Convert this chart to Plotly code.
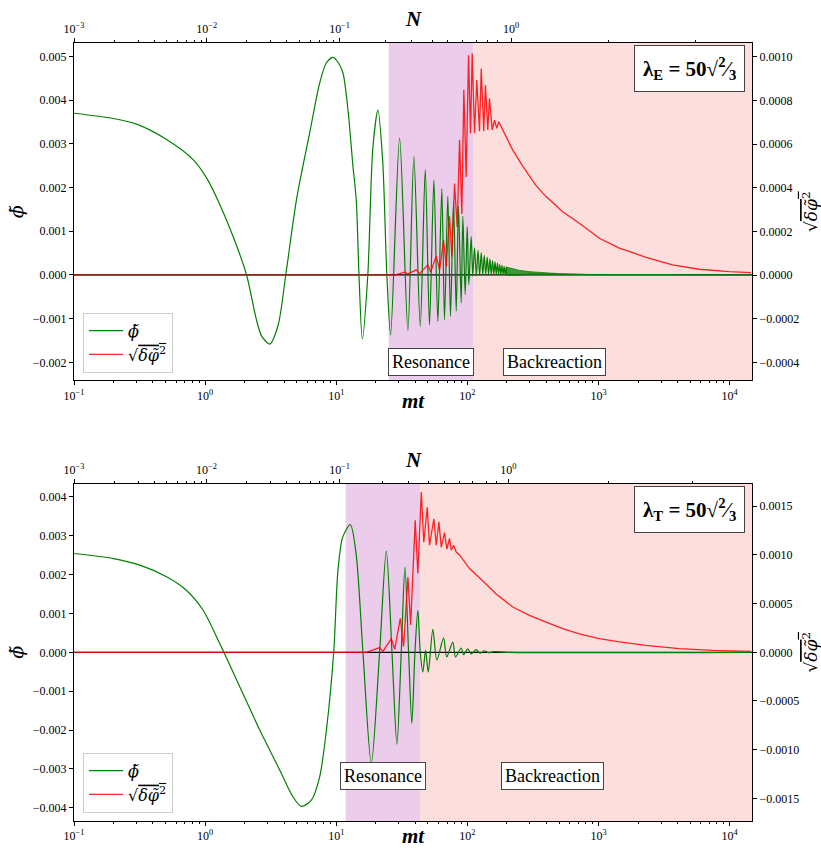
import math
import plotly.graph_objects as go

# ------------------------------------------------------------------ data
# top panel (lambda_E): phi~ (left axis), values in units of 1e-3
mt_phiE = [0.1, 0.2, 0.3, 0.508, 0.81, 1.025, 1.29, 1.634, 2.07, 2.46, 2.70, 3.11, 3.6, 4.12,
           4.97, 6.27, 7.47, 8.4, 9.44, 10.4, 11.25, 12.28, 13.4, 14.2, 14.9, 15.8, 17.4, 19.0,
           20.78, 22.6, 24.3, 25.96, 30.4, 35.17, 39.06, 43.7, 47.7, 51.4, 55.5, 59.5, 63.8, 66.9,
           70.9, 74.3, 78.4, 82.2, 85.5, 89.7, 92.3, 96.2, 99.7, 102.5, 106.9, 109.9, 113.3, 117.0,
           120.5, 124.0, 127.5, 131.0, 134.5, 138.0, 141.5, 145.0, 148.5, 152.0, 155.5, 159.0,
           162.5, 166.0, 169.5, 173.0, 176.5, 180.0, 183.5, 187.0, 190.5, 194.0, 197.5, 201.0,
           300.0, 600.0, 1000.0, 3000.0, 14500.0]
phiE_e3 = [3.70, 3.58, 3.45, 3.10, 2.64, 2.22, 1.62, 0.88, 0.0, -1.02, -1.40, -1.58, -1.15, 0.0,
           1.72, 3.25, 4.39, 4.85, 4.98, 4.85, 4.62, 3.78, 2.49, 1.72, 0.0, -1.465, 0.0, 2.9,
           3.77, 2.6, 0.0, -1.37, 3.135, -1.27, 2.71, -1.18, 2.41, -1.14, 2.165, -1.06, 1.97, -1.02,
           1.80, -0.95, 1.68, -0.83, 1.57, -0.64, 1.34, -0.45, 1.11, -0.22, 0.88, -0.03, 0.62, -0.02,
           0.57, -0.01, 0.51, 0.0, 0.45, 0.0, 0.41, 0.01, 0.37, 0.01, 0.33, 0.01,
           0.30, 0.01, 0.27, 0.01, 0.24, 0.01, 0.22, 0.01, 0.20, 0.01, 0.18, 0.01,
           0.02, 0.012, 0.01, 0.006, 0.004]
# dense oscillation band of phi~ (top panel) : envelope, units 1e-3
mt_bandE = [197.5, 230, 250, 300, 350, 400, 500, 600, 800, 1000]
bandE_hi_e3 = [0.18, 0.13, 0.105, 0.075, 0.058, 0.045, 0.030, 0.022, 0.015, 0.012]
bandE_lo_e3 = [0.01, 0.01, 0.01, 0.01, 0.01, 0.01, 0.01, 0.008, 0.008, 0.008]

# top panel: sqrt(<dphi^2>) (right axis), units 1e-3
mt_dE = [0.1, 27.9, 33.2, 35.0, 40.7, 43.2, 49.9, 52.4, 57.9, 61.3, 65.8, 69.0, 73.1, 76.1,
         79.8, 83.6, 87.1, 90.7, 93.9, 97.9, 102.0, 105.6, 108.8, 113.3, 117.9, 123.7, 127.5,
         133.2, 137.3, 143.0, 147.3, 154.5, 160.8, 167.5, 173.4, 186.1, 197.5, 221.8, 264.2,
         297.2, 334.0, 398.3, 532.8, 714.0, 1014.0, 1440.0, 2300.0, 3667.0, 5858.0, 9913.0, 14510.0]
dE_e3 = [0.0, 0.0, 0.014, 0.005, 0.024, 0.007, 0.047, 0.014, 0.088, 0.024, 0.16, 0.04, 0.27, 0.085,
         0.42, 0.22, 0.62, 0.28, 0.85, 0.45, 1.008, 0.65, 1.016, 0.65, 0.894, 0.66, 0.947,
         0.66, 0.871, 0.665, 0.81, 0.665, 0.71, 0.673, 0.703, 0.665, 0.634, 0.573, 0.50,
         0.455, 0.41, 0.36, 0.291, 0.238, 0.169, 0.124, 0.082, 0.047, 0.027, 0.016, 0.012]

# bottom panel (lambda_T): phi~, units 1e-3
mt_phiT = [0.1, 0.2, 0.318, 0.508, 0.722, 0.966, 1.256, 1.39, 1.84, 2.61, 3.71, 4.68, 5.42, 6.46,
           7.47, 8.41, 9.56, 10.3, 11.2, 12.81, 14.2, 15.97, 18.5, 21.4, 24.07, 26.6, 29.0, 31.3,
           33.4, 35.6, 37.7, 39.8, 41.9, 43.7, 45.7, 48.0, 50.3, 54.5, 58.5, 65.8, 69.5, 77.4,
           81.2, 89.7, 93.4, 100.7, 106.9, 116.7, 125.0, 135.0, 145.0, 160.0, 200.0, 14500.0]
phiT_e3 = [2.54, 2.41, 2.24, 1.94, 1.59, 1.08, 0.31, 0.0, -0.89, -2.0, -3.03, -3.72, -3.96, -3.80,
           -3.2, -2.0, 0.0, 2.1, 2.96, 3.28, 2.5, 0.0, -2.86, 0.0, 2.60, 0.0, -2.37, 0.0,
           2.19, 0.0, -1.83, 0.0, 1.08, 0.0, -0.51, 0.05, -0.51, 0.59, -0.2, 0.37, -0.12, 0.26,
           -0.12, 0.11, -0.06, 0.09, -0.04, 0.07, -0.02, 0.04, -0.01, 0.02, 0.0, 0.0]

# bottom panel: sqrt(<dphi^2>), units 1e-3
mt_dT = [0.1, 16.95, 21.4, 22.7, 26.3, 27.9, 30.8, 32.6, 35.2, 36.9, 40.0, 41.9, 44.5, 46.5,
         49.4, 51.4, 55.5, 57.9, 60.6, 63.2, 66.9, 69.7, 73.1, 75.3, 78.4, 82.2, 87.1, 92.3,
         97.9, 103.7, 123.7, 165.7, 221.8, 297.2, 398.3, 532.8, 714.0, 1014.0, 1400.0, 2300.0,
         4125.0, 7396.0, 14510.0]
dT_e3 = [0.0, 0.0, 0.048, 0.01, 0.14, 0.03, 0.35, 0.06, 0.77, 0.28, 1.355, 0.81, 1.646, 1.13,
         1.49, 1.10, 1.37, 1.10, 1.34, 1.08, 1.23, 1.06, 1.17, 1.05, 1.10, 1.03, 1.0, 0.95,
         0.91, 0.86, 0.765, 0.60, 0.465, 0.38, 0.311, 0.243, 0.19, 0.14, 0.11, 0.072,
         0.038, 0.02, 0.01]

# phase boundaries (mt)
resE = [25.1, 110.7]
resT = [11.8, 43.6]
mt_max = 14800

# top axis N: tick labels and mt positions where N takes those values
N_major_text = ["10<sup>−3</sup>", "10<sup>−2</sup>", "10<sup>−1</sup>", "10<sup>0</sup>"]
N_major_mtE = [0.1, 1.03, 10.6, 215.6]
N_minor_mtE = [0.205, 0.313, 0.409, 0.508, 0.612, 0.717, 0.825, 0.932,
               2.08, 3.14, 4.19, 5.26, 6.33, 7.4, 8.45, 9.56,
               23.7, 37.7, 53.9, 70.9, 92.3, 116.7, 143.0, 170.4, 1181.0, 5458.0]
N_major_mtT = [0.1, 1.025, 10.6, 205.6]
N_minor_mtT = [0.205, 0.313, 0.409, 0.508, 0.612, 0.717, 0.825, 0.932,
               2.08, 3.14, 4.19, 5.26, 6.33, 7.4, 8.45, 9.56,
               22.4, 35.6, 50.5, 67.3, 87.1, 109.9, 139.0, 166.6, 1181.0, 5208.0]

mt_major = [0.1, 1, 10, 100, 1000, 10000]
mt_major_text = ["10<sup>−1</sup>", "10<sup>0</sup>", "10<sup>1</sup>", "10<sup>2</sup>",
                 "10<sup>3</sup>", "10<sup>4</sup>"]

# ------------------------------------------------------------------ styling
FONT = "Liberation Serif"
MATHFONT = "DejaVu Serif"
GREEN = "#008000"
RED = "rgba(255,0,0,0.85)"
PURPLE = "#EBCDEB"
PINK = "#FCDEDC"

def e3(v):
    return [x * 1e-3 for x in v]

W, H = 821, 850
ML, MR, MT, MB = 74, 69, 43, 29
PH = H - MT - MB
PANEL = 337.4 / PH
dom_top = [1 - PANEL, 1]
dom_bot = [0, PANEL]

def py2paper(py):
    return (H - MB - py) / PH

mt_minor = [k * 10 ** d for d in range(-1, 5) for k in range(2, 10)]

fig = go.Figure()

phi_name = "<i>ϕ̃</i>"
dphi_name = "√<span style='text-decoration:overline'><i>δφ̃</i><sup>2</sup></span>"

# --- top panel traces
fig.add_trace(go.Scatter(
    x=mt_bandE + mt_bandE[::-1], y=e3(bandE_hi_e3) + e3(bandE_lo_e3)[::-1],
    fill="toself", fillcolor="rgba(0,128,0,0.75)", line=dict(color=GREEN, width=0.8),
    mode="lines", showlegend=False, hoverinfo="skip", xaxis="x", yaxis="y"))
fig.add_trace(go.Scatter(x=mt_phiE, y=e3(phiE_e3), mode="lines", name=phi_name,
                         line=dict(color=GREEN, width=1.2, shape="spline", smoothing=0.8),
                         xaxis="x", yaxis="y", legend="legend"))
fig.add_trace(go.Scatter(x=mt_dE, y=e3(dE_e3), mode="lines", name=dphi_name,
                         line=dict(color=RED, width=1.3),
                         xaxis="x", yaxis="y2", legend="legend"))
fig.add_trace(go.Scatter(x=[mt_phiE[0]], y=[None], xaxis="x3", yaxis="y",
                         showlegend=False, hoverinfo="skip"))

# --- bottom panel traces
fig.add_trace(go.Scatter(x=mt_phiT, y=e3(phiT_e3), mode="lines", name=phi_name,
                         line=dict(color=GREEN, width=1.2, shape="spline", smoothing=0.8),
                         xaxis="x2", yaxis="y3", legend="legend2"))
fig.add_trace(go.Scatter(x=mt_dT, y=e3(dT_e3), mode="lines", name=dphi_name,
                         line=dict(color=RED, width=1.3),
                         xaxis="x2", yaxis="y4", legend="legend2"))
fig.add_trace(go.Scatter(x=[mt_phiT[0]], y=[None], xaxis="x4", yaxis="y3",
                         showlegend=False, hoverinfo="skip"))

xr = [-1, math.log10(mt_max)]
tickfont = dict(family=FONT, size=12, color="black")
common = dict(showline=True, linecolor="black", linewidth=1, ticks="outside", ticklen=4,
              tickwidth=1, tickcolor="black", showgrid=False, zeroline=False, tickfont=tickfont,
              automargin=False)

def xbottom(anchor):
    return dict(common, type="log", range=xr, anchor=anchor, domain=[0, 1],
                tickmode="array", tickvals=mt_major, ticktext=mt_major_text,
                minor=dict(tickmode="array", tickvals=mt_minor, ticks="outside", ticklen=2,
                           tickcolor="black", tickwidth=1))

def xtop(over, anchor, majors, minors):
    return dict(common, type="log", range=xr, overlaying=over, anchor=anchor, side="top",
                tickmode="array", tickvals=majors, ticktext=N_major_text,
                minor=dict(tickmode="array", tickvals=minors, ticks="outside", ticklen=2,
                           tickcolor="black", tickwidth=1))

fig.update_layout(
    template="none",
    width=W, height=H, margin=dict(l=ML, r=MR, t=MT, b=MB),
    paper_bgcolor="white", plot_bgcolor="white",
    font=dict(family=FONT, size=12, color="black"),
    xaxis=xbottom("y"),
    xaxis2=xbottom("y3"),
    xaxis3=xtop("x", "y", N_major_mtE, N_minor_mtE),
    xaxis4=xtop("x2", "y3", N_major_mtT, N_minor_mtT),
    yaxis=dict(common, domain=dom_top, anchor="x", range=[-0.002412, 0.005307],
               tickmode="array", tickvals=[-0.002, -0.001, 0, 0.001, 0.002, 0.003, 0.004, 0.005],
               tickformat=".3f",
               title=dict(text=phi_name, font=dict(family=MATHFONT, size=19), standoff=4)),
    yaxis2=dict(common, overlaying="y", anchor="x", side="right", range=[-0.0004824, 0.001064],
                tickmode="array", tickvals=[-0.0004, -0.0002, 0, 0.0002, 0.0004, 0.0006, 0.0008, 0.001],
                tickformat=".4f",
                title=dict(text=dphi_name, font=dict(family=MATHFONT, size=17), standoff=8)),
    yaxis3=dict(common, domain=dom_bot, anchor="x2", range=[-0.004337, 0.004337],
                tickmode="array", tickvals=[-0.004, -0.003, -0.002, -0.001, 0, 0.001, 0.002, 0.003, 0.004],
                tickformat=".3f",
                title=dict(text=phi_name, font=dict(family=MATHFONT, size=19), standoff=4)),
    yaxis4=dict(common, overlaying="y3", anchor="x2", side="right", range=[-0.001733, 0.001733],
                tickmode="array", tickvals=[-0.0015, -0.001, -0.0005, 0, 0.0005, 0.001, 0.0015],
                tickformat=".4f",
                title=dict(text=dphi_name, font=dict(family=MATHFONT, size=17), standoff=8)),
    legend=dict(x=0.0133, y=py2paper(372.7), xanchor="left", yanchor="bottom",
                bgcolor="rgba(255,255,255,0.85)", bordercolor="#cccccc", borderwidth=1,
                font=dict(family=MATHFONT, size=16), itemwidth=34, tracegroupgap=0),
    legend2=dict(x=0.0133, y=py2paper(812.7), xanchor="left", yanchor="bottom",
                 bgcolor="rgba(255,255,255,0.85)", bordercolor="#cccccc", borderwidth=1,
                 font=dict(family=MATHFONT, size=16), itemwidth=34, tracegroupgap=0),
)

shapes = []
for xa, ya, res in (("x", "y", resE), ("x2", "y3", resT)):
    shapes.append(dict(type="rect", xref=xa, yref=ya + " domain", x0=res[0], x1=res[1], y0=0, y1=1,
                       fillcolor=PURPLE, line=dict(width=0), layer="below"))
    shapes.append(dict(type="rect", xref=xa, yref=ya + " domain", x0=res[1], x1=mt_max, y0=0, y1=1,
                       fillcolor=PINK, line=dict(width=0), layer="below"))
    shapes.append(dict(type="line", xref=xa + " domain", yref=ya, x0=0, x1=1, y0=0, y1=0,
                       line=dict(color="black", width=1.2), layer="below"))
fig.update_layout(shapes=shapes)

box = dict(bgcolor="white", bordercolor="#444444", borderwidth=1, borderpad=3,
           showarrow=False, xanchor="center", yanchor="middle",
           font=dict(family=FONT, size=18, color="black"))
ann = []
for xa, ya, pos_res, pos_back, ypos in (("x", "y", 1.7205, 2.666, 0.054), ("x2", "y3", 1.3595, 2.652, 0.134)):
    ann.append(dict(box, text="Resonance", x=pos_res, y=ypos, xref=xa, yref=ya + " domain"))
    ann.append(dict(box, text="Backreaction", x=pos_back, y=ypos, xref=xa, yref=ya + " domain"))
lam = dict(bgcolor="white", bordercolor="#444444", borderwidth=1, borderpad=8, showarrow=False,
           xanchor="center", yanchor="middle",
           font=dict(family=FONT, size=21, color="black"))
ann.append(dict(lam, text="<b>λ<sub>E</sub> = 50√<sup>2</sup>⁄<sub>3</sub></b>", x=0.908, y=0.923,
                xref="x domain", yref="y domain"))
ann.append(dict(lam, text="<b>λ<sub>T</sub> = 50√<sup>2</sup>⁄<sub>3</sub></b>", x=0.908, y=0.923,
                xref="x2 domain", yref="y3 domain"))
# axis titles (mt below, N above each panel)
ttl = dict(showarrow=False, xref="paper", yref="paper", x=0.5, xanchor="center", yanchor="middle",
           font=dict(family=FONT, size=21, color="black"))
ann.append(dict(ttl, text="<b><i>mt</i></b>", y=py2paper(401)))
ann.append(dict(ttl, text="<b><i>mt</i></b>", y=py2paper(836)))
ann.append(dict(ttl, text="<b><i>N</i></b>", y=py2paper(19)))
ann.append(dict(ttl, text="<b><i>N</i></b>", y=py2paper(460)))
fig.update_layout(annotations=ann)

fig.write_html("out.html")
